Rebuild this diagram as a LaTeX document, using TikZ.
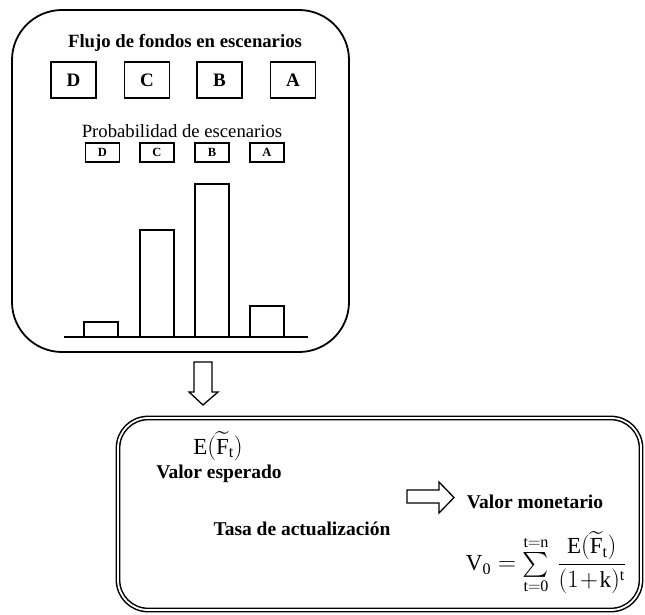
\documentclass[tikz,border=0pt]{standalone}
\usepackage{amsmath}
\usepackage{fontspec}
\setmainfont{Liberation Serif}
\begin{document}
\begin{tikzpicture}[x=1pt,y=-1pt,
  panel/.style={draw, line width=1.8pt, rounded corners=50pt},
  flowbox/.style={draw, line width=1.3pt, minimum width=45pt, minimum height=36pt, inner sep=0pt, font=\fontsize{19}{19}\selectfont\bfseries},
  probbox/.style={draw, line width=1.2pt, minimum width=34pt, minimum height=19pt, inner sep=0pt, font=\fontsize{12.5}{12.5}\selectfont\bfseries},
  bar/.style={draw, line width=1.3pt},
  blockarrow/.style={draw, line width=1.3pt, line join=miter},
  label/.style={inner sep=0pt, font=\fontsize{19.5}{19.5}\selectfont\bfseries},
  resultbox/.style={draw, line width=1.5pt, double, double distance=1.8pt, rounded corners=30pt}
]
\useasboundingbox (0,0) rectangle (645,615);

% upper panel: cash flows and scenario probabilities
\draw[panel] (12,10) rectangle (349,352);
\node[inner sep=0pt, font=\fontsize{18.7}{18.7}\selectfont\bfseries] (title) at (185,43) {Flujo de fondos en escenarios};
\node[flowbox] (fD) at (73.5,80) {D};
\node[flowbox] (fC) at (147,80) {C};
\node[flowbox] (fB) at (219.5,80) {B};
\node[flowbox] (fA) at (293,80) {A};

\node[inner sep=0pt, font=\fontsize{18.7}{18.7}\selectfont] (prob) at (182,131) {Probabilidad de escenarios};
\node[probbox] (pD) at (102.5,152.5) {D};
\node[probbox] (pC) at (157,152.5) {C};
\node[probbox] (pB) at (212,152.5) {B};
\node[probbox] (pA) at (267,152.5) {A};

% probability bars
\draw[bar] (84,337) rectangle (118,322);
\draw[bar] (140,337) rectangle (174,230);
\draw[bar] (195,337) rectangle (229,184);
\draw[bar] (250,337) rectangle (284,306);
\draw[line width=1.5pt] (64,337) -- (308,337);

% downward block arrow
\draw[blockarrow] (194,362) -- (212,362) -- (212,392) -- (218,392) -- (203,405)
  -- (189,392) -- (194,392) -- cycle;

% lower panel: expected value and discounting
\draw[resultbox] (118,418) rectangle (641,610);
\node[inner sep=0pt, font=\fontsize{23}{23}\selectfont] (ef) at (218,446) {$\mathrm{E}(\widetilde{\mathrm{F}}_{\mathrm{t}})$};
\node[label] (esp) at (219,474) {Valor esperado};
\node[label] (tasa) at (302,529) {Tasa de actualización};

% rightward block arrow
\draw[blockarrow] (407,490) -- (439,490) -- (439,482) -- (454,497.5) -- (439,513)
  -- (439,503) -- (407,503) -- cycle;

\node[label] (mon) at (535,502) {Valor monetario};
\node[inner sep=0pt, font=\fontsize{23}{23}\selectfont] (form) at (546,563)
  {$\mathrm{V}_{\mathrm{0}}=\sum\limits_{\mathrm{t=0}}^{\mathrm{t=n}}\,\dfrac{\mathrm{E}(\widetilde{\mathrm{F}}_{\mathrm{t}})}{(1\!+\!\mathrm{k})^{\mathrm{t}}}$};
\end{tikzpicture}
\end{document}
